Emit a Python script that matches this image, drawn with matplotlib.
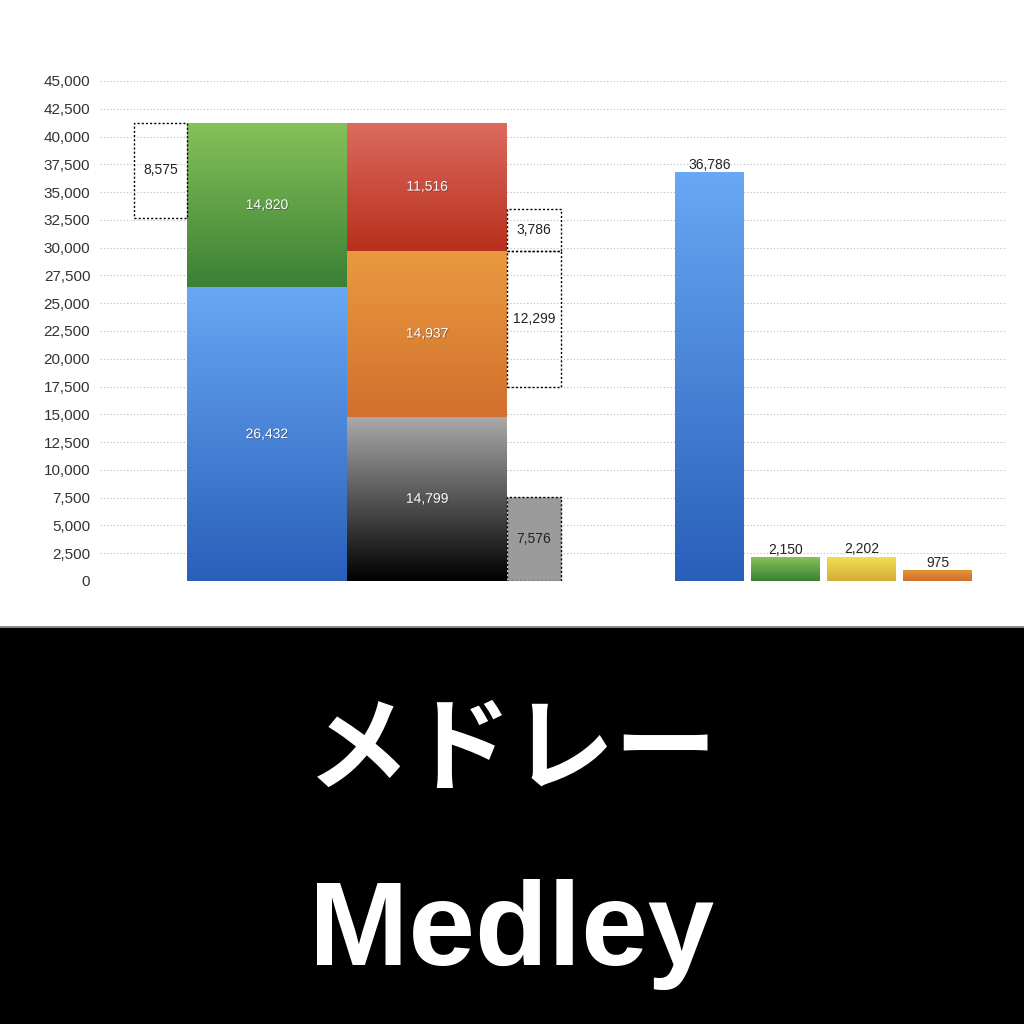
import numpy as np
import matplotlib
matplotlib.use("Agg")
import matplotlib.pyplot as plt
from matplotlib.colors import LinearSegmentedColormap
from matplotlib.patches import Rectangle
import matplotlib.patheffects as pe

# data
left_stack = [26432, 14820]            # blue, green
right_stack = [14799, 14937, 11516]    # gray/black, orange, red
left_gap = 8575
right_boxes = [7576, 12299, 3786]
single_vals = [36786, 2150, 2202, 975]

# layout (x in pixel-like units of the axes)
x_gap_left = 60.5
x_left = 167
x_right = 327
x_boxes = 434
x_singles = [609.5, 685.5, 761.5, 837.5]
w_wide = 160
w_box = 54
w_single = 69

c_blue = ("#2a5fb9", "#68a8f4")
c_green = ("#3a8034", "#86c25a")
c_black = ("#000000", "#aaaaaa")
c_orange = ("#d2702d", "#e99a40")
c_red = ("#b8301c", "#dc6a5f")
c_yellow = ("#d3ae38", "#f3df52")
c_orange2 = ("#d06e2b", "#e69438")

plt.rcParams['font.family'] = ['Liberation Sans', 'DejaVu Sans']

fig = plt.figure(figsize=(10.24, 10.24), dpi=100)
ax = fig.add_axes([100/1024, (1024-581)/1024, 905/1024, 500/1024])
ax.set_xlim(0, 905)
ax.set_ylim(0, 45000)

grad = np.linspace(0, 1, 256).reshape(-1, 1)


def grad_bar(x, h, w, cols, bottom=0):
    b = ax.bar(x, h, w, bottom=bottom, color="none", linewidth=0)[0]
    cmap = LinearSegmentedColormap.from_list("g", list(cols))
    im = ax.imshow(grad, cmap=cmap, aspect="auto", origin="lower",
                   extent=[x - w/2, x + w/2, bottom, bottom + h], zorder=2)
    im.set_clip_path(b)
    return b


shadow = [pe.withSimplePatchShadow(offset=(0.6, -0.6), shadow_rgbFace="#333333", alpha=0.5)]


def inner_label(x, y, v):
    ax.text(x, y, f"{v:,}", ha="center", va="center", color="white",
            fontsize=10, zorder=5, path_effects=shadow)


# left stacked column
grad_bar(x_left, left_stack[0], w_wide, c_blue)
grad_bar(x_left, left_stack[1], w_wide, c_green, bottom=left_stack[0])
inner_label(x_left, left_stack[0]/2, left_stack[0])
inner_label(x_left, left_stack[0] + left_stack[1]/2, left_stack[1])

# right stacked column
bottoms = np.concatenate([[0], np.cumsum(right_stack)[:-1]])
for v, btm, c in zip(right_stack, bottoms, [c_black, c_orange, c_red]):
    grad_bar(x_right, v, w_wide, c, bottom=btm)
    inner_label(x_right, btm + v/2, v)

total = sum(left_stack)
# dashed gap box on the left
ax.bar(x_gap_left, left_gap, w_box - 1, bottom=total - left_gap, facecolor="none",
       edgecolor="black", linestyle=(0, (1.5, 1.5)), linewidth=1, zorder=3)
ax.text(x_gap_left, total - left_gap/2, f"{left_gap:,}", ha="center", va="center",
        fontsize=10, color="#222222", zorder=5)

# dashed boxes on the right
top_orange = right_stack[0] + right_stack[1]
box_bottoms = [0, top_orange - right_boxes[1], top_orange]
box_faces = ["#9b9b9b", "none", "none"]
for v, btm, fc in zip(right_boxes, box_bottoms, box_faces):
    ax.bar(x_boxes, v, w_box, bottom=btm, facecolor=fc, edgecolor="black",
           linestyle=(0, (1.5, 1.5)), linewidth=1, zorder=3)
    ax.text(x_boxes, btm + v/2, f"{v:,}", ha="center", va="center",
            fontsize=10, color="#222222", zorder=5)

# single bars
for x, v, c in zip(x_singles, single_vals, [c_blue, c_green, c_yellow, c_orange2]):
    grad_bar(x, v, w_single, c)
    ax.text(x, v + 20, f"{v:,}", ha="center", va="bottom", fontsize=10,
            color="#222222", zorder=5)

ax.set_xlim(0, 905)
ax.set_ylim(0, 45000)
ax.set_yticks(np.arange(0, 45001, 2500))
ax.yaxis.set_major_formatter(matplotlib.ticker.FuncFormatter(lambda v, p: f"{int(v):,}"))
ax.tick_params(axis="y", length=0, pad=7, labelsize=11, labelcolor="#333333")
ax.set_xticks([])
ax.grid(axis="y", linestyle=(0, (1, 2)), color="#bbbbbb", linewidth=0.8, zorder=0)
ax.set_axisbelow(True)
for s in ax.spines.values():
    s.set_visible(False)

# bottom title panel
fig.add_artist(Rectangle((0, 0), 1, (1024 - 628)/1024, transform=fig.transFigure,
                         facecolor="black", edgecolor="none"))
fig.add_artist(Rectangle((0, (1024 - 628)/1024), 1, 2/1024, transform=fig.transFigure,
                         facecolor="#8a8a8a", edgecolor="none"))
fig.text(0.5, 1 - 752/1024, "メドレー", ha="center", va="center", color="white",
         fontsize=74, fontweight="bold", family=["Noto Sans CJK JP", "DejaVu Sans"])
fig.text(0.5, 1 - 965/1024, "Medley", ha="center", va="baseline", color="white",
         fontsize=86, fontweight="bold", family=["Liberation Sans", "DejaVu Sans"])

fig.savefig("out.png", dpi=100)
